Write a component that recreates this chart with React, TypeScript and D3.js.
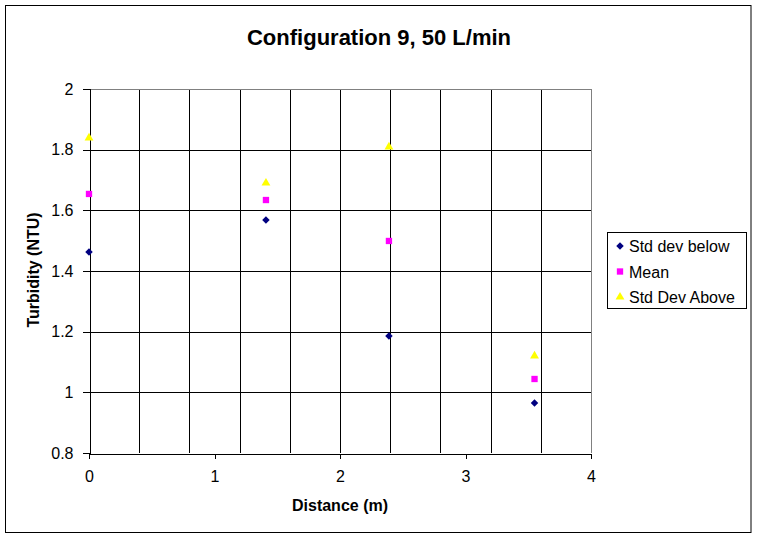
import { useEffect, useRef } from "react"
import * as d3 from "d3"

// distances along the pipe (m)
const distances = [0, 1.41, 2.39, 3.55]
const stdBelow = [1.463, 1.568, 1.186, 0.965]
const means = [1.654, 1.634, 1.499, 1.044]
const stdAbove = [1.839, 1.69, 1.809, 1.12]

const xTicks = [0, 1, 2, 3, 4]
const yTicks = [0.8, 1, 1.2, 1.4, 1.6, 1.8, 2]
const xGrid = [0.4, 0.8, 1.2, 1.6, 2, 2.4, 2.8, 3.2, 3.6]

const seriesNames = ["Std dev below", "Mean", "Std Dev Above"]

const width = 757
const height = 538
const font = "'Liberation Sans', Arial, sans-serif"

// Excel-style square diamond (d3's own diamond is tall and narrow)
const wideDiamond = {
  draw(context: d3.Path, size: number) {
    const r = Math.sqrt(size / 2)
    context.moveTo(0, -r)
    context.lineTo(r, 0)
    context.lineTo(0, r)
    context.lineTo(-r, 0)
    context.closePath()
  },
}

export default function App() {
  const svgRef = useRef<SVGSVGElement>(null)

  useEffect(() => {
    if (!svgRef.current) return
    const root = d3.select(svgRef.current)
    root.selectAll("*").remove()

    const left = 89
    const right = 591
    const top = 89
    const bottom = 453

    const x = d3.scaleLinear().domain([0, 4]).range([left, right])
    const y = d3.scaleLinear().domain([0.8, 2]).range([bottom, top])

    // outer chart border
    root
      .append("rect")
      .attr("x", 5.5)
      .attr("y", 5.5)
      .attr("width", 745.5)
      .attr("height", 527)
      .attr("fill", "white")
      .attr("stroke", "black")
      .attr("stroke-width", 1)

    // title
    root
      .append("text")
      .attr("x", 379)
      .attr("y", 45)
      .attr("text-anchor", "middle")
      .style("font-family", font)
      .style("font-size", "22px")
      .style("font-weight", "bold")
      .text("Configuration 9, 50 L/min")

    const grid = root.append("g").attr("shape-rendering", "crispEdges")

    // horizontal gridlines
    grid
      .selectAll("line.h")
      .data(yTicks.slice(1, -1))
      .enter()
      .append("line")
      .attr("x1", left)
      .attr("x2", right)
      .attr("y1", (d) => Math.round(y(d)) + 0.5)
      .attr("y2", (d) => Math.round(y(d)) + 0.5)
      .attr("stroke", "black")

    // vertical gridlines
    grid
      .selectAll("line.v")
      .data(xGrid)
      .enter()
      .append("line")
      .attr("x1", (d) => Math.round(x(d)) + 0.5)
      .attr("x2", (d) => Math.round(x(d)) + 0.5)
      .attr("y1", top)
      .attr("y2", bottom)
      .attr("stroke", "black")

    // grey top/right plot border
    grid
      .append("path")
      .attr("d", `M${left},${top + 0.5}H${right + 0.5}V${bottom}`)
      .attr("fill", "none")
      .attr("stroke", "#808080")

    // x axis
    const xAxis = root
      .append("g")
      .attr("transform", `translate(0, ${bottom + 0.5})`)
      .attr("shape-rendering", "crispEdges")
      .call(d3.axisBottom(x).tickValues(xTicks).tickSize(5).tickPadding(12).tickFormat(d3.format("d")))
    xAxis.select(".domain").attr("stroke", "black")
    xAxis.selectAll("text").style("font-family", font).style("font-size", "16px")

    // y axis
    const yAxis = root
      .append("g")
      .attr("transform", `translate(${left + 0.5}, 0)`)
      .attr("shape-rendering", "crispEdges")
      .call(d3.axisLeft(y).tickValues(yTicks).tickSize(7).tickPadding(9).tickFormat((d) => String(+d)))
    yAxis.select(".domain").attr("stroke", "black")
    yAxis.selectAll("text").style("font-family", font).style("font-size", "16px")

    // axis titles
    root
      .append("text")
      .attr("x", 340)
      .attr("y", 511)
      .attr("text-anchor", "middle")
      .style("font-family", font)
      .style("font-size", "16px")
      .style("font-weight", "bold")
      .text("Distance (m)")

    root
      .append("text")
      .attr("transform", `translate(39, 270) rotate(-90)`)
      .attr("text-anchor", "middle")
      .style("font-family", font)
      .style("font-size", "16px")
      .style("font-weight", "bold")
      .text("Turbidity (NTU)")

    const diamond = d3.symbol(wideDiamond, 28)
    const square = d3.symbol(d3.symbolSquare, 40)
    const triangle = d3.symbol(d3.symbolTriangle, 34)

    const series = [
      { values: stdBelow, shape: diamond, color: "#000080" },
      { values: means, shape: square, color: "#FF00FF" },
      { values: stdAbove, shape: triangle, color: "#FFFF00" },
    ]

    series.forEach((s) => {
      root
        .append("g")
        .selectAll("path")
        .data(s.values)
        .enter()
        .append("path")
        .attr("transform", (d, i) => `translate(${x(distances[i])}, ${y(d)})`)
        .attr("d", s.shape)
        .attr("fill", s.color)
    })

    // legend
    const legend = root.append("g")
    legend
      .append("rect")
      .attr("x", 607.5)
      .attr("y", 232.5)
      .attr("width", 139)
      .attr("height", 76)
      .attr("fill", "white")
      .attr("stroke", "black")
      .attr("shape-rendering", "crispEdges")

    seriesNames.forEach((name, i) => {
      const cy = 246 + i * 25.5
      legend
        .append("path")
        .attr("transform", `translate(620, ${cy})`)
        .attr("d", series[i].shape)
        .attr("fill", series[i].color)
      legend
        .append("text")
        .attr("x", 629)
        .attr("y", cy + 6)
        .style("font-family", font)
        .style("font-size", "16px")
        .text(name)
    })
  }, [])

  return (
    <svg
      ref={svgRef}
      width={width}
      height={height}
      style={{ position: "absolute", left: 0, top: 0 }}
    ></svg>
  )
}
